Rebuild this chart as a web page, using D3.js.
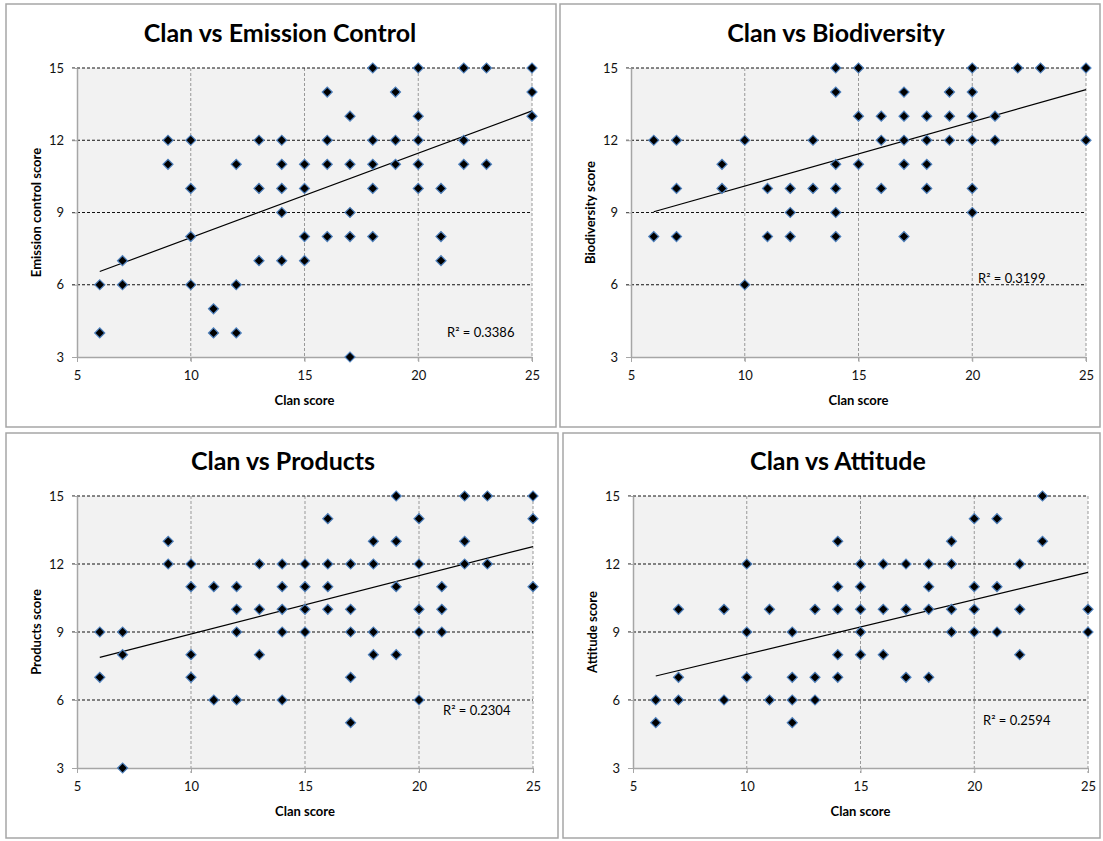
<!DOCTYPE html>
<html>
<head>
<meta charset="utf-8">
<script src="https://cdn.jsdelivr.net/npm/d3@7"></script>
<style>
  body { margin: 0; background: #fff; }
  svg { display: block; font-family: Lato, "Open Sans", sans-serif; }
</style>
</head>
<body>
<svg id="chart" width="1103" height="841"></svg>
<script>
// one entry per diamond: clan score (x) and the other score (y)
const emissionX = [6,6,7,7,9,9,10,10,10,10,11,11,12,12,12,13,13,13,14,14,14,14,14,15,15,15,15,16,16,16,16,17,17,17,17,17,18,18,18,18,18,19,19,19,20,20,20,20,20,21,21,21,22,22,22,23,23,25,25,25];
const emissionY = [6,4,7,6,12,11,12,10,8,6,5,4,11,6,4,12,10,7,12,11,10,9,7,11,10,8,7,14,12,11,8,13,11,9,8,3,15,12,11,10,8,14,12,11,15,13,12,11,10,10,8,7,15,12,11,15,11,15,14,13];

const bioX = [6,6,7,7,7,9,9,10,10,11,11,12,12,12,13,13,14,14,14,14,14,14,15,15,15,16,16,16,17,17,17,17,17,18,18,18,18,19,19,19,20,20,20,20,20,20,21,21,22,23,25,25];
const bioY = [12,8,12,10,8,11,10,12,6,10,8,10,9,8,12,10,15,14,11,10,9,8,15,13,11,13,12,10,14,13,12,11,8,13,12,11,10,14,13,12,15,14,13,12,10,9,13,12,15,15,15,12];

const productsX = [6,6,7,7,7,9,9,10,10,10,10,11,11,12,12,12,12,13,13,13,14,14,14,14,14,15,15,15,15,16,16,16,16,17,17,17,17,17,18,18,18,18,19,19,19,19,20,20,20,20,20,21,21,21,22,22,22,23,23,25,25,25];
const productsY = [9,7,9,8,3,13,12,12,11,8,7,11,6,11,10,9,6,12,10,8,12,11,10,9,6,12,11,10,9,14,12,11,10,12,10,9,7,5,13,12,9,8,15,13,11,8,14,12,10,9,6,11,10,9,15,13,12,15,12,15,14,11];

const attitudeX = [6,6,7,7,7,9,9,10,10,10,11,11,12,12,12,12,13,13,13,14,14,14,14,14,15,15,15,15,15,16,16,16,17,17,17,18,18,18,18,19,19,19,19,20,20,20,20,21,21,21,22,22,22,23,23,25,25];
const attitudeY = [6,5,10,7,6,10,6,12,9,7,10,6,9,7,6,5,10,7,6,13,11,10,8,7,12,11,10,9,8,12,10,8,12,10,7,12,11,10,7,13,12,10,9,14,11,10,9,14,11,9,12,10,8,15,13,10,9];

const titles = ["Clan vs Emission Control", "Clan vs Biodiversity", "Clan vs Products", "Clan vs Attitude"];
const yLabels = ["Emission control score", "Biodiversity score", "Products score", "Attitude score"];
const xLabel = "Clan score";
const rSquared = ["0.3386", "0.3199", "0.2304", "0.2594"];
// linear trend read at clan 6 and clan 25
const trendAt6 = [6.55, 9.03, 7.88, 7.06];
const trendAt25 = [13.22, 14.1, 12.77, 11.63];
const xTicks = [5, 10, 15, 20, 25];
const yTicks = [3, 6, 9, 12, 15];

const panels = [
  {box: [6, 4, 556, 427], plot: [77, 68, 532, 357], xs: emissionX, ys: emissionY, titleX: 280, titleY: 42, r2: [447, 337]},
  {box: [560, 4, 1100, 427], plot: [631, 68, 1086, 357], xs: bioX, ys: bioY, titleX: 836, titleY: 42, r2: [978, 283]},
  {box: [6, 433, 558, 838], plot: [77, 496, 533, 768], xs: productsX, ys: productsY, titleX: 283, titleY: 470, r2: [443, 715]},
  {box: [563, 433, 1100, 838], plot: [633, 496, 1088, 768], xs: attitudeX, ys: attitudeY, titleX: 838, titleY: 470, r2: [983, 725]}
];

const svg = d3.select("#chart");
svg.append("rect").attr("width", 1103).attr("height", 841).attr("fill", "#fff");

const diamond = d3.symbol().type(d3.symbolSquare).size(50);

panels.forEach((p, i) => {
  const [bx0, by0, bx1, by1] = p.box;
  const [px0, py0, px1, py1] = p.plot;
  const g = svg.append("g");

  g.append("rect")
    .attr("x", bx0).attr("y", by0)
    .attr("width", bx1 - bx0).attr("height", by1 - by0)
    .attr("fill", "#fff").attr("stroke", "#a6a6a6").attr("stroke-width", 1.5);

  const x = d3.scaleLinear().domain([5, 25]).range([px0, px1]);
  const y = d3.scaleLinear().domain([3, 15]).range([py1, py0]);

  g.append("rect")
    .attr("x", px0).attr("y", py0)
    .attr("width", px1 - px0).attr("height", py1 - py0)
    .attr("fill", "#f2f2f2");

  // vertical grid (grey dashes)
  g.selectAll(".vgrid").data(xTicks.slice(1)).join("line")
    .attr("x1", d => x(d)).attr("x2", d => x(d))
    .attr("y1", py0).attr("y2", py1 + 5)
    .attr("stroke", "#999").attr("stroke-dasharray", "3,2");

  // horizontal grid (black dashes)
  g.selectAll(".hgrid").data(yTicks.slice(1)).join("line")
    .attr("x1", px0 - 5).attr("x2", px1)
    .attr("y1", d => y(d)).attr("y2", d => y(d))
    .attr("stroke", "#111").attr("stroke-dasharray", "3,2");

  // axes
  const ax = g.append("g").attr("transform", `translate(0,${py1})`)
    .call(d3.axisBottom(x).tickValues(xTicks).tickSize(5).tickPadding(9).tickSizeOuter(0));
  const ay = g.append("g").attr("transform", `translate(${px0},0)`)
    .call(d3.axisLeft(y).tickValues(yTicks).tickSize(5).tickPadding(8).tickSizeOuter(0));
  [ax, ay].forEach(a => {
    a.select(".domain").attr("stroke", "#a6a6a6").attr("stroke-width", 1.5);
    a.selectAll(".tick line").attr("stroke", "#a6a6a6");
    a.selectAll(".tick text").attr("font-size", 13).attr("fill", "#111")
      .attr("font-family", "Lato, sans-serif");
  });

  // trend line
  g.append("line")
    .attr("x1", x(6)).attr("y1", y(trendAt6[i]))
    .attr("x2", x(25)).attr("y2", y(trendAt25[i]))
    .attr("stroke", "#000").attr("stroke-width", 1.2);

  // points
  g.selectAll(".pt").data(p.xs.map((v, k) => [v, p.ys[k]])).join("path")
    .attr("d", diamond)
    .attr("transform", d => `translate(${x(d[0])},${y(d[1])}) rotate(45)`)
    .attr("fill", "#000").attr("stroke", "#4f81bd").attr("stroke-width", 1.2);

  // texts
  g.append("text")
    .attr("x", p.titleX).attr("y", p.titleY)
    .attr("text-anchor", "middle")
    .attr("font-size", 25).attr("font-weight", "bold")
    .text(titles[i]);

  g.append("text")
    .attr("x", (px0 + px1) / 2).attr("y", py1 + 48)
    .attr("text-anchor", "middle")
    .attr("font-size", 13).attr("font-weight", "bold")
    .text(xLabel);

  g.append("text")
    .attr("transform", `translate(${px0 - 41},${(py0 + py1) / 2}) rotate(-90)`)
    .attr("text-anchor", "middle")
    .attr("dominant-baseline", "central")
    .attr("font-size", 13).attr("font-weight", "bold")
    .text(yLabels[i]);

  g.append("text")
    .attr("x", p.r2[0]).attr("y", p.r2[1])
    .attr("font-size", 13)
    .text("R² = " + rSquared[i]);
});
</script>
</body>
</html>
